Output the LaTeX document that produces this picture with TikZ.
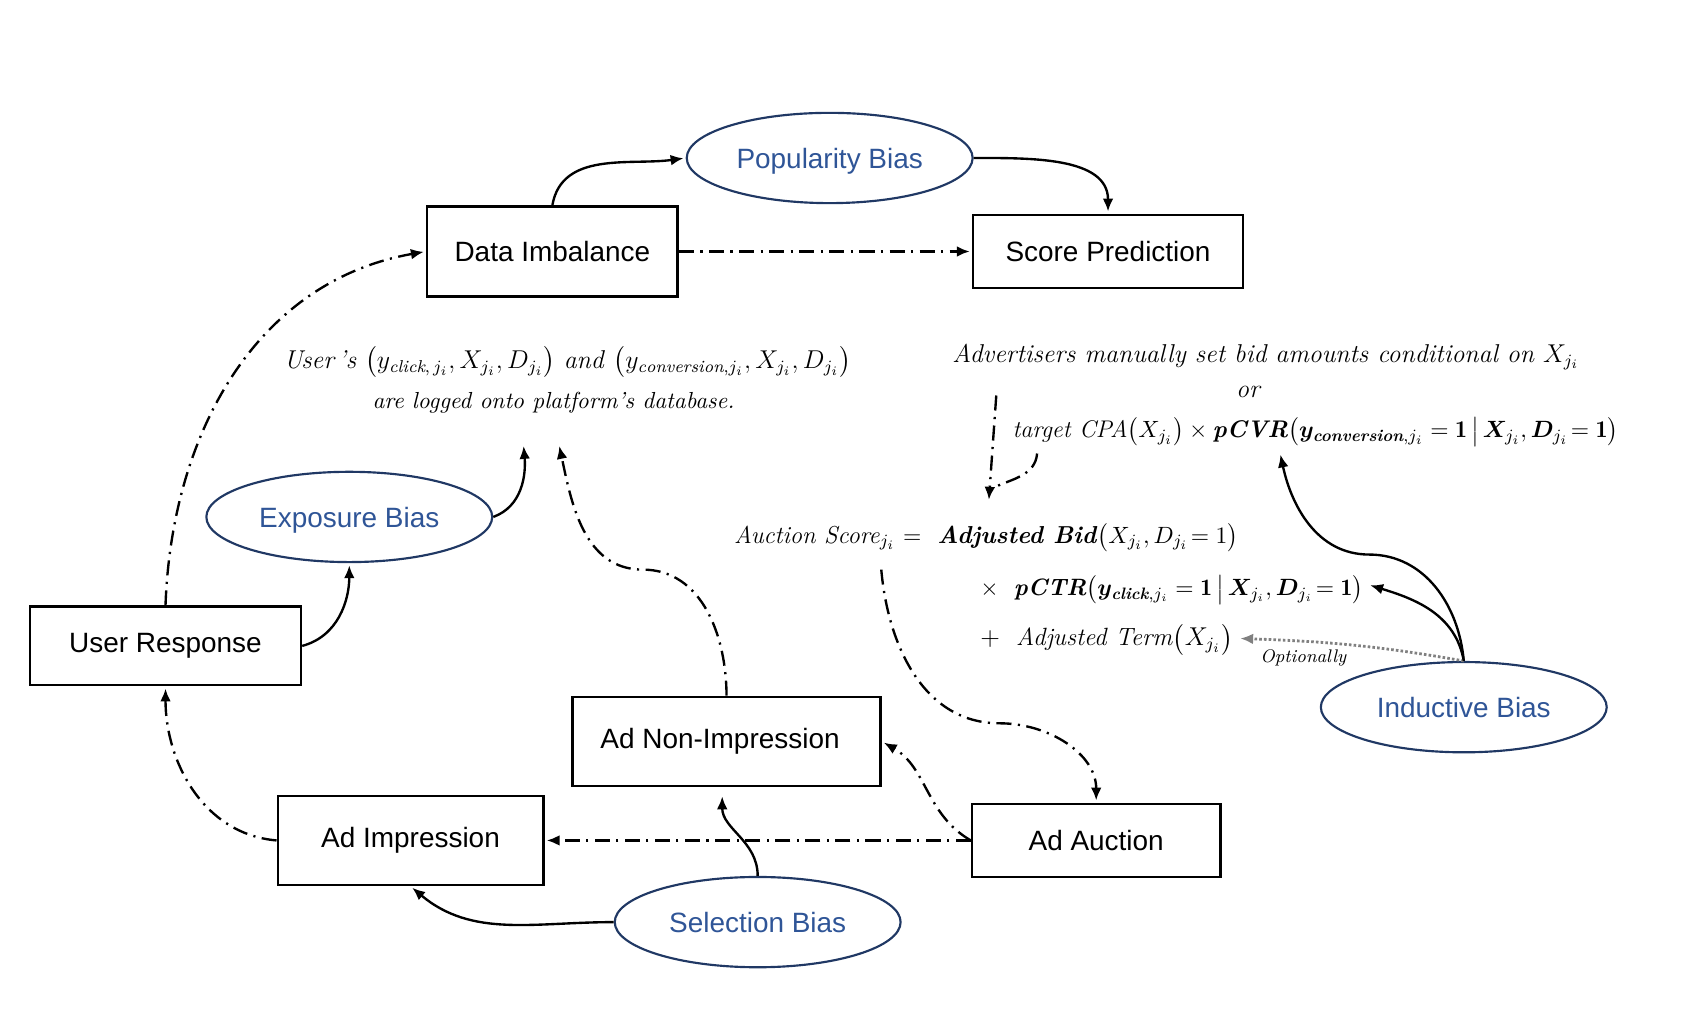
\documentclass[tikz,border=0pt]{standalone}
\usepackage{fontspec}
\setsansfont{Liberation Sans}
\usepackage{amsmath,bm}
\usetikzlibrary{shapes.geometric,arrows.meta}
\definecolor{biasline}{RGB}{32,56,100}
\definecolor{biastext}{RGB}{47,85,151}
\begin{document}
\begin{tikzpicture}[x=0.5pt, y=0.5pt, shorten >=1pt, line width=1.1pt,
  block/.style={draw,rectangle,line width=1.2pt,inner sep=0pt,font=\sffamily\fontsize{13}{15}\selectfont},
  bias node/.style={ellipse,draw=biasline,line width=1pt,text=biastext,minimum width=133pt,minimum height=42pt,inner sep=0pt,text depth=0pt,font=\sffamily\fontsize{13}{15}\selectfont},
  eq/.style={inner sep=0pt,font=\fontsize{12}{14}\selectfont},
  plain arrow/.style={-{Latex[length=6pt,width=5pt]}},
  dashdot arrow/.style={-{Latex[length=6pt,width=5pt]},dash pattern=on 7pt off 3pt on 1pt off 3pt},
  dashdot line/.style={dash pattern=on 7pt off 3pt on 1pt off 3pt},
  option arrow/.style={-{Latex[length=6pt,width=5pt]},draw=gray,dash pattern=on 1.2pt off 1pt,line width=1.3pt}]
\useasboundingbox (0,0) rectangle (1566,-942);
% boxes
\node[block,minimum width=116.5pt,minimum height=42pt] (datimb) at (514,-234) {Data Imbalance};
\node[block,minimum width=125.5pt,minimum height=34pt] (scorepred) at (1031,-234) {Score Prediction};
\node[block,minimum width=126pt,minimum height=36.5pt] (userresp) at (154,-601) {User Response};
\node[block,minimum width=143.5pt,minimum height=41.5pt] (nonimp) at (676,-690) {Ad Non-Impression\hspace*{6pt}};
\node[block,minimum width=123.5pt,minimum height=41.5pt] (adimp) at (382,-782) {Ad Impression};
\node[block,minimum width=115.5pt,minimum height=34pt] (auction) at (1020,-782) {Ad Auction};
% biases
\node[bias node] (popbias) at (772,-147) {Popularity Bias};
\node[bias node] (expbias) at (325,-481) {Exposure Bias};
\node[bias node] (selbias) at (705,-858) {Selection Bias};
\node[bias node] (indbias) at (1362,-658) {Inductive Bias};
% formulas
\node[eq] (logged) at (528,-337) {\textit{User\,'s} $\bigl(y_{\mathit{click},\,j_i}, X_{j_i}, D_{j_i}\bigr)$ \textit{and} $\bigl(y_{\mathit{conversion},j_i}, X_{j_i}, D_{j_i}\bigr)$};
\node[eq,font=\fontsize{10.8}{12}\selectfont] (logdb) at (515,-375) {\textit{are logged onto platform's database.}};
\node[eq,anchor=west] (advset) at (885,-332) {\textit{Advertisers manually set bid amounts conditional on} $X_{j_i}$};
\node[eq] (ortext) at (1162,-365) {\textit{or}};
\node[eq,anchor=west,font=\fontsize{11.2}{14}\selectfont] (cpa) at (941,-402) {\textit{target CPA}$\bigl(X_{j_i}\bigr) \times \text{\bfseries\itshape pCVR}\bigl(\bm{y}_{\text{\bfseries\itshape conversion},j_i} = \mathbf{1} \,\big|\, \bm{X}_{j_i}, \bm{D}_{j_i}\!= \mathbf{1}\bigr)$};
\node[eq,anchor=west,font=\fontsize{11.4}{14}\selectfont] (score) at (682,-500) {\textit{Auction Score}$_{j_i}$\ $=$\ \ \textbf{\itshape Adjusted Bid}$\bigl(X_{j_i}, D_{j_i}\!= 1\bigr)$};
\node[eq,anchor=west,font=\fontsize{11}{14}\selectfont] (pctr) at (911,-549) {$\times$\ \ \textbf{\itshape pCTR}$\bigl(\bm{y}_{\text{\bfseries\itshape click},j_i} = \mathbf{1} \,\big|\, \bm{X}_{j_i}, \bm{D}_{j_i}\!= \mathbf{1}\bigr)$};
\node[eq,anchor=west,font=\fontsize{11.6}{14}\selectfont] (adjterm) at (911,-595) {$+$\ \ \textit{Adjusted Term}$\bigl(X_{j_i}\bigr)$};
\node[eq,font=\fontsize{8.5}{10}\selectfont] (optional) at (1213,-612) {\textit{Optionally}};
% free ends
\coordinate (expend) at (487,-413);
\coordinate (nonend) at (520,-413);
\coordinate (nonbend) at (598,-530);
\coordinate (selend) at (672,-739);
\coordinate (scorestart) at (820,-530);
\coordinate (scorebend) at (930,-673);
\coordinate (advstart) at (927,-368);
\coordinate (bidend) at (920,-467);
\coordinate (cpastart) at (965,-422);
\coordinate (cpajoin) at (924,-454);
\coordinate (pcvrend) at (1191,-421);
\coordinate (indbend) at (1274,-516);
\coordinate (pctrend) at (1273,-544);
\coordinate (termend) at (1152,-594);
\path
    (datimb.north) edge[plain arrow,out=80,in=188] (popbias.west)
    (popbias.east) edge[plain arrow,out=0,in=90] (scorepred.north)
    (datimb.east) edge[dashdot arrow] (scorepred.west)
    (userresp.north) edge[dashdot arrow,out=88,in=190] (datimb.west)
    (userresp.east) edge[plain arrow,out=15,in=-90] (expbias.south)
    (expbias.east) edge[plain arrow,out=20,in=-85] (expend)
    (adimp.west) edge[dashdot arrow,out=175,in=-90] (userresp.south)
    (auction.west) edge[dashdot arrow] (adimp.east)
    (auction.west) edge[dashdot arrow,out=150,in=-30] (nonimp.east)
    (selbias.north) edge[plain arrow,out=90,in=-90] (selend)
    (selbias.west) edge[plain arrow,out=180,in=-40] (adimp.south)
    (advstart) edge[dashdot arrow] (bidend)
    (cpastart) edge[dashdot line,out=-95,in=25] (cpajoin)
    (indbias.north) edge[plain arrow,out=100,in=-17] (pctrend)
    (indbias.north) edge[option arrow,out=170,in=-2] (termend)
    ;
\draw[dashdot arrow] (nonimp.north) to[out=90,in=0] (nonbend) to[out=180,in=-78] (nonend);
\draw[dashdot arrow] (scorestart) to[out=-85,in=180] (scorebend) to[out=0,in=90] (auction.north);
\draw[plain arrow] (indbias.north) to[out=95,in=0] (indbend) to[out=180,in=-78] (pcvrend);
\end{tikzpicture}
\end{document}
